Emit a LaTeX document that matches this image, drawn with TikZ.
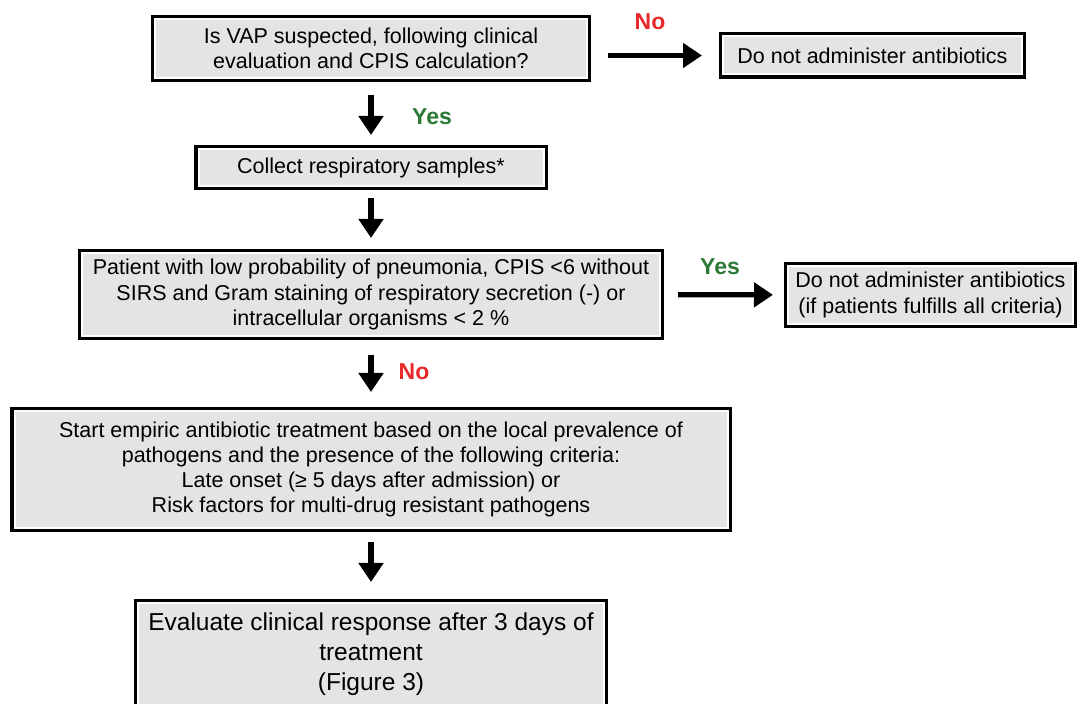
\documentclass[tikz,border=0pt]{standalone}
\usepackage{fontspec}
\setmainfont{Liberation Sans}
\usetikzlibrary{arrows.meta}

\definecolor{boxgray}{HTML}{E4E4E4}
\definecolor{nored}{HTML}{E8282B}
\definecolor{yesgreen}{HTML}{2B7A35}

\tikzset{
  stepbox/.style={draw=white, line width=1pt, fill=boxgray, outer sep=0pt,
    preaction={draw=black, line width=4.2pt}, align=center, inner sep=2pt,
    font=\fontsize{10.75}{12.6}\selectfont},
  flow/.style={line width=2.6pt, -{Triangle[length=9.5pt,width=12pt]}},
  nolab/.style={text=nored, font=\bfseries\fontsize{11.5}{13}\selectfont},
  yeslab/.style={text=yesgreen, font=\bfseries\fontsize{11.5}{13}\selectfont}
}

\begin{document}
\begin{tikzpicture}[x=0.5pt, y=-0.5pt]
    \clip (0,0) rectangle (1078,704);

    \node[stepbox, minimum width=216pt, minimum height=29.5pt] (vap) at (371, 48.5)
      {Is VAP suspected, following clinical\\evaluation and CPIS calculation?};
    \node[stepbox, minimum width=149.5pt, minimum height=19pt] (noabx) at (872.5, 55.5)
      {Do not administer antibiotics};
    \node[stepbox, minimum width=172.5pt, minimum height=18.5pt] (samples) at (371, 167.5)
      {Collect respiratory samples*};
    \node[stepbox, minimum width=289pt, minimum height=41.5pt] (lowprob) at (371, 294.5)
      {Patient with low probability of pneumonia, CPIS <6 without\\SIRS and Gram staining of respiratory secretion (-) or\\intracellular organisms < 2 \%};
    \node[stepbox, minimum width=142.5pt, minimum height=29pt] (noabxall) at (930.5, 295)
      {Do not administer antibiotics\\(if patients fulfills all criteria)};
    \node[stepbox, minimum width=356.5pt, minimum height=58.5pt] (empiric) at (371, 469.5)
      {Start empiric antibiotic treatment based on the local prevalence of\\pathogens and the presence of the following criteria:\\Late onset (≥ 5 days after admission) or\\Risk factors for multi-drug resistant pathogens};
    \node[stepbox, minimum width=233pt, minimum height=51.5pt,
          font=\fontsize{12.25}{15}\selectfont] (evaluate) at (371, 654.5)
      {Evaluate clinical response after 3 days of\\treatment\\(Figure 3)};

    \node[nolab]  (no1)  at (650, 22)  {No};
    \node[yeslab] (yes1) at (432, 117) {Yes};
    \node[yeslab] (yes2) at (720, 267) {Yes};
    \node[nolab]  (no2)  at (414, 372) {No};

    \draw[flow, shorten <=10.5pt, shorten >=10.5pt] (vap.east |- noabx.west) -- (noabx.west);
    \draw[flow, shorten <=8.5pt, shorten >=7pt] (vap) -- (samples);
    \draw[flow, shorten <=6pt, shorten >=7.5pt] (samples) -- (lowprob);
    \draw[flow, shorten <=9pt, shorten >=7.5pt] (lowprob) -- (noabxall);
    \draw[flow, shorten <=9.5pt, shorten >=9.5pt] (lowprob) -- (empiric);
    \draw[flow, shorten <=7pt, shorten >=10.5pt] (empiric) -- (evaluate);
\end{tikzpicture}
\end{document}
